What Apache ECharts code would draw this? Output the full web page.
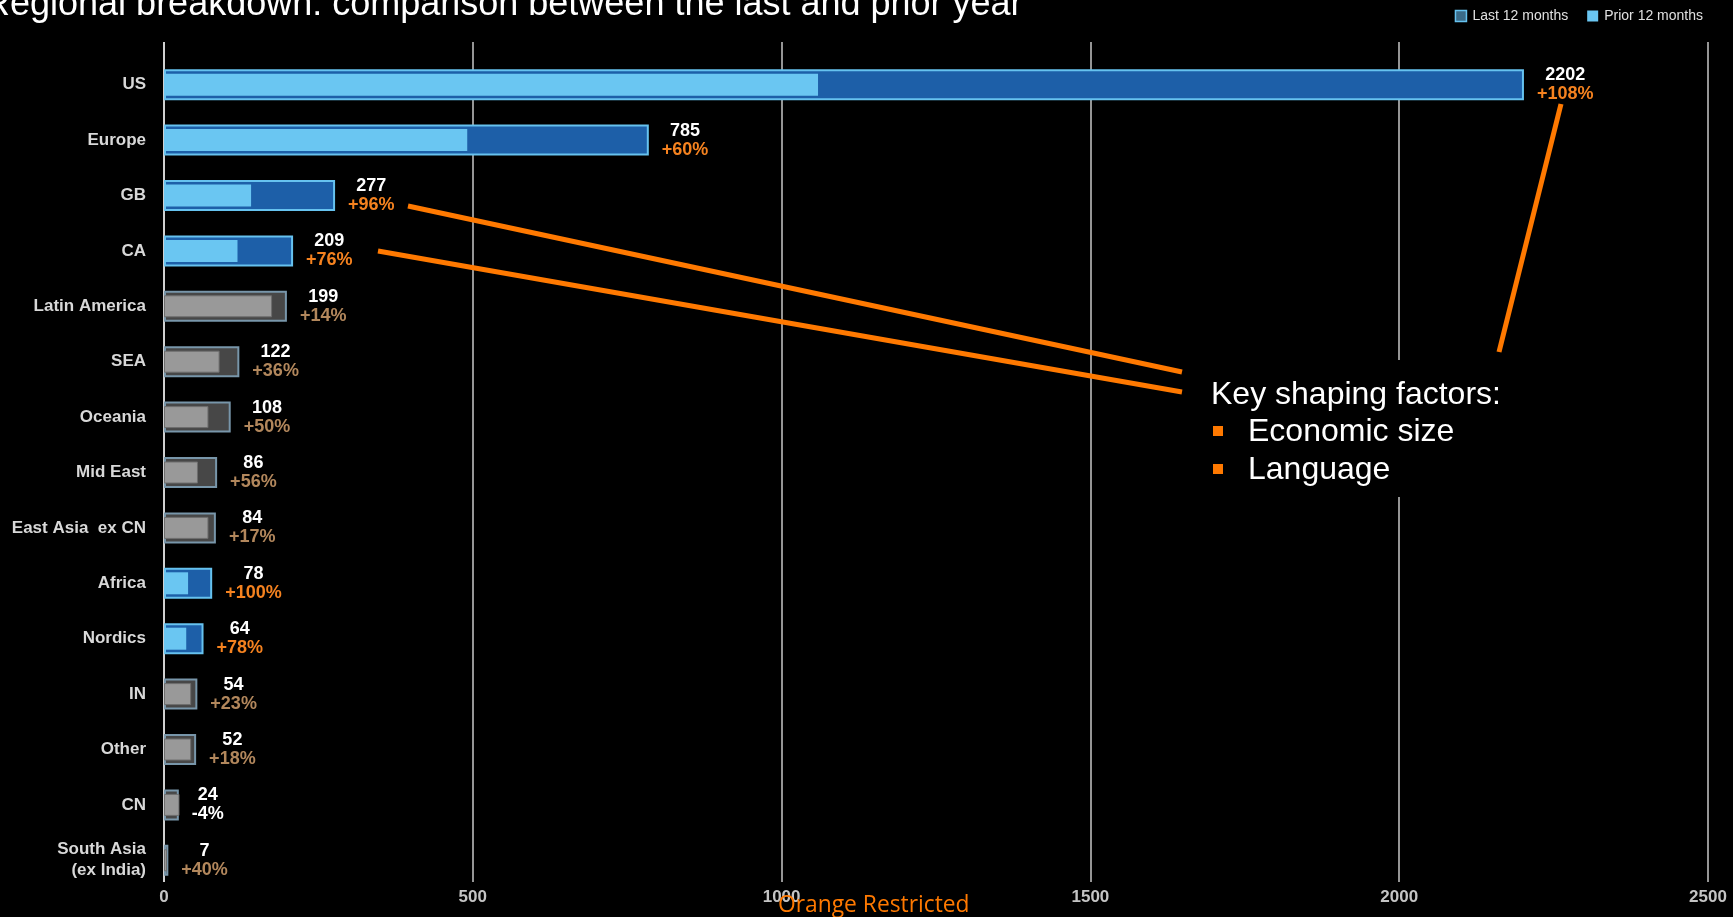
<!DOCTYPE html>
<html>
<head>
<meta charset="utf-8">
<title>Regional breakdown</title>
<script src="https://cdn.jsdelivr.net/npm/echarts@6/dist/echarts.min.js"></script>
<style>
  html, body { margin: 0; padding: 0; background: #000; }
  #chart { width: 1733px; height: 917px; }
</style>
</head>
<body>
<div id="chart"></div>
<script>
// values
const categories = ['US', 'Europe', 'GB', 'CA', 'Latin America', 'SEA', 'Oceania', 'Mid East',
  'East Asia  ex CN', 'Africa', 'Nordics', 'IN', 'Other', 'CN', 'South Asia\n(ex India)'];
const last12 = [2202, 785, 277, 209, 199, 122, 108, 86, 84, 78, 64, 54, 52, 24, 7];
const prior12 = [1059, 491, 141, 119, 175, 90, 72, 55, 72, 39, 36, 44, 44, 25, 5];
const growthPct = [108, 60, 96, 76, 14, 36, 50, 56, 17, 100, 78, 23, 18, -4, 40];
const highlighted = ['US', 'Europe', 'GB', 'CA', 'Africa', 'Nordics'];
const xMin = 0, xMax = 2500, xStep = 500;

const FONT = '"Liberation Sans", Arial, Helvetica, sans-serif';
const ORANGE = '#ff7900';

const isBlue = i => highlighted.includes(categories[i]);

const outerStyle = i => isBlue(i)
  ? { color: '#1d5fa8', borderColor: '#66c2ef', borderWidth: 2 }
  : { color: '#474747', borderColor: '#7896aa', borderWidth: 2 };
const innerStyle = i => isBlue(i)
  ? { color: '#6ac6f2' }
  : { color: '#999999', borderColor: '#6e6e6e', borderWidth: 1 };

function pctTag(i) {
  if (growthPct[i] < 0) return 'pw';
  return isBlue(i) ? 'po' : 'pt';
}

const labelFont = { fontSize: 18, fontWeight: 'bold', fontFamily: FONT, lineHeight: 19, align: 'center' };

const chart = echarts.init(document.getElementById('chart'), null, { renderer: 'canvas' });

const option = {
  backgroundColor: '#000',
  animation: false,
  textStyle: { fontFamily: FONT },
  legend: {
    right: 25, top: 4,
    icon: 'rect', itemWidth: 11, itemHeight: 11, itemGap: 19,
    textStyle: { color: '#e0e0e0', fontSize: 14, fontFamily: FONT, padding: [0, 0, 0, 1] },
    selectedMode: false,
    data: [
      { name: 'Last 12 months', itemStyle: { color: '#3b6b88', borderColor: '#66c2ef', borderWidth: 1.5 } },
      { name: 'Prior 12 months', itemStyle: { color: '#6ac6f2' } }
    ]
  },
  grid: [
    { left: 164, right: 25, top: 42, bottom: 35 },      // grid lines + tick labels
    { left: 164, right: 25, top: 57, bottom: 29 }       // bars
  ],
  xAxis: [
    {
      gridIndex: 0, type: 'value', min: xMin, max: xMax, interval: xStep,
      axisLine: { show: false }, axisTick: { show: false },
      splitLine: { show: true, lineStyle: { width: 2, color: ['#d0d0d0', '#959595', '#959595', '#959595', '#959595', '#959595'] } },
      axisLabel: { margin: 7, color: '#c4c4c4', fontSize: 17, fontWeight: 'bold', fontFamily: FONT, formatter: v => String(v) }
    },
    { gridIndex: 1, type: 'value', min: xMin, max: xMax, show: false }
  ],
  yAxis: [
    { gridIndex: 0, type: 'value', show: false },
    {
      gridIndex: 1, type: 'category', data: categories, inverse: true,
      axisLine: { show: false }, axisTick: { show: false },
      axisLabel: { margin: 18, color: '#d8d8d8', fontSize: 17, fontWeight: 'bold', fontFamily: FONT, lineHeight: 21, align: 'right' }
    },
    { gridIndex: 1, type: 'category', data: categories, inverse: true, show: false }
  ],
  series: [
    {
      name: 'Last 12 months', type: 'bar', xAxisIndex: 1, yAxisIndex: 1, barWidth: 31, z: 2,
      data: last12.map((v, i) => ({ value: v, itemStyle: outerStyle(i) })),
      label: {
        show: true, position: 'right', distance: 13,
        formatter: p => {
          const g = growthPct[p.dataIndex];
          return '{v|' + p.value + '}\n{' + pctTag(p.dataIndex) + '|' + (g > 0 ? '+' : '') + g + '%}';
        },
        rich: {
          v: Object.assign({ color: '#ffffff' }, labelFont),
          po: Object.assign({ color: '#f5821f' }, labelFont),
          pt: Object.assign({ color: '#b2875c' }, labelFont),
          pw: Object.assign({ color: '#ffffff' }, labelFont)
        }
      }
    },
    {
      name: 'Prior 12 months', type: 'bar', xAxisIndex: 1, yAxisIndex: 2, barWidth: 22, z: 3,
      data: prior12.map((v, i) => ({ value: v, itemStyle: innerStyle(i) }))
    }
  ],
  graphic: [
    // slide title, cut off at the top edge
    { type: 'text', left: -16, top: -13, z: 10,
      style: { text: 'Regional breakdown: comparison between the last and prior year', fill: '#fff', font: '36px ' + FONT } },
    // annotation leaders
    { type: 'line', z: 5, shape: { x1: 408, y1: 206, x2: 1182, y2: 372 }, style: { stroke: ORANGE, lineWidth: 5 } },
    { type: 'line', z: 5, shape: { x1: 378, y1: 251, x2: 1182, y2: 392 }, style: { stroke: ORANGE, lineWidth: 5 } },
    { type: 'line', z: 5, shape: { x1: 1561, y1: 104, x2: 1499, y2: 352 }, style: { stroke: ORANGE, lineWidth: 5 } },
    // callout box
    { type: 'rect', z: 6, shape: { x: 1192, y: 360, width: 325, height: 137 }, style: { fill: '#000' } },
    { type: 'text', z: 7, x: 1211, y: 395, style: { text: 'Key shaping factors:', fill: '#fff', font: '32px ' + FONT, verticalAlign: 'middle' } },
    { type: 'rect', z: 7, shape: { x: 1213, y: 426, width: 10, height: 10 }, style: { fill: ORANGE } },
    { type: 'text', z: 7, x: 1248, y: 432, style: { text: 'Economic size', fill: '#fff', font: '32px ' + FONT, verticalAlign: 'middle' } },
    { type: 'rect', z: 7, shape: { x: 1213, y: 464, width: 10, height: 10 }, style: { fill: ORANGE } },
    { type: 'text', z: 7, x: 1248, y: 470, style: { text: 'Language', fill: '#fff', font: '32px ' + FONT, verticalAlign: 'middle' } },
    // footer classification
    { type: 'text', z: 8, x: 778, y: 905, scaleX: 0.95,
      style: { text: 'Orange Restricted', fill: ORANGE, font: '24px "Open Sans", sans-serif', verticalAlign: 'middle' } }
  ]
};

chart.setOption(option);
</script>
</body>
</html>
